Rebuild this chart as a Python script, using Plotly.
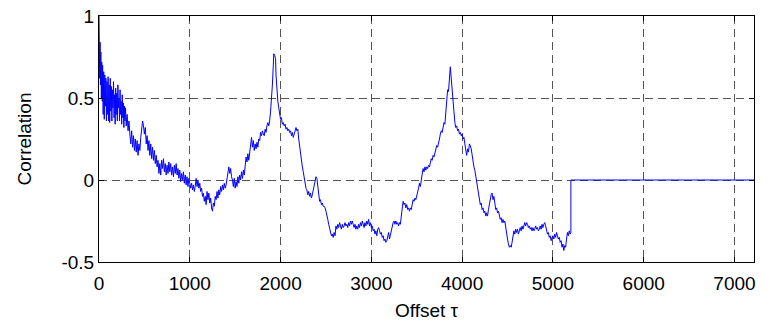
import plotly.graph_objects as go

# ---- data ----
offset_a = [0, 4, 8, 12, 16, 20, 26, 30, 36, 40, 46, 52, 58, 64, 70, 76, 82, 88, 94, 100,
            106, 112, 118, 124, 130, 136, 142, 148, 154, 160, 166, 172, 178, 184, 190, 196,
            202, 208, 214, 220, 226, 232, 238, 244, 250, 256, 262, 268, 274, 280, 286, 292,
            300, 310, 320, 330]
corr_a = [1.0, 0.86, 0.62, 0.84, 0.58, 0.78, 0.50, 0.72, 0.48, 0.70, 0.40, 0.66, 0.37, 0.64,
          0.45, 0.62, 0.36, 0.60, 0.40, 0.63, 0.36, 0.58, 0.35, 0.62, 0.42, 0.57, 0.36, 0.55,
          0.44, 0.60, 0.38, 0.52, 0.34, 0.56, 0.40, 0.53, 0.36, 0.58, 0.44, 0.50, 0.36, 0.55,
          0.40, 0.48, 0.34, 0.52, 0.38, 0.47, 0.32, 0.45, 0.36, 0.44, 0.33, 0.40, 0.30, 0.36]

offset_b = list(range(340, 1070, 10))
corr_b = [0.28, 0.22, 0.30, 0.20, 0.27, 0.18, 0.25, 0.17, 0.24, 0.15, 0.22, 0.18, 0.26, 0.30,
          0.36, 0.33, 0.28, 0.32, 0.22, 0.27, 0.18, 0.24, 0.15, 0.22, 0.13, 0.20, 0.12, 0.18,
          0.10, 0.15, 0.08, 0.12, 0.04, 0.10, 0.03, 0.12, 0.07, 0.13, 0.05, 0.10, 0.03, 0.09,
          0.04, 0.11, 0.05, 0.10, 0.03, 0.08, 0.02, 0.09, 0.04, 0.10, 0.03, 0.07, 0.01, 0.06,
          -0.01, 0.04, 0.0, 0.05, -0.02, 0.03, -0.03, 0.02, -0.04, 0.01, -0.03, -0.05, -0.02,
          -0.06, -0.03, -0.07, -0.04]

offset_c = list(range(1070, 1920, 10))
corr_c = [0.01, -0.04, 0.0, -0.05, -0.02, -0.07, -0.05, -0.10, -0.08, -0.13, -0.10, -0.15,
          -0.07, -0.12, -0.08, -0.14, -0.11, -0.17, -0.19, -0.14, -0.16, -0.10, -0.12, -0.07,
          -0.11, -0.06, -0.09, -0.04, -0.07, -0.03, -0.06, -0.02, -0.05, -0.03, 0.02, 0.05,
          0.08, 0.04, 0.07, 0.02, 0.0, -0.04, 0.01, -0.05, -0.01, -0.04, 0.02, -0.02, 0.03,
          0.0, 0.05, 0.01, 0.06, 0.03, 0.10, 0.14, 0.11, 0.16, 0.12, 0.17, 0.22, 0.26, 0.20,
          0.24, 0.18, 0.22, 0.19, 0.23, 0.20, 0.25, 0.24, 0.29, 0.27, 0.30, 0.28, 0.27, 0.31,
          0.29, 0.33, 0.35, 0.33, 0.36, 0.42, 0.49, 0.58]

offset_d = [1920, 1925, 1935, 1945, 1950, 1960, 1970, 1980, 1990, 2000, 2010, 2020, 2030,
            2040, 2050, 2060, 2070, 2080, 2090, 2100]
corr_d = [0.70, 0.77, 0.76, 0.74, 0.64, 0.52, 0.48, 0.44, 0.40, 0.37, 0.38, 0.34, 0.35,
          0.33, 0.34, 0.31, 0.32, 0.30, 0.31, 0.29]

offset_e = list(range(2110, 3200, 10))
corr_e = [0.30, 0.27, 0.29, 0.26, 0.28, 0.31, 0.32, 0.30, 0.31, 0.25, 0.20, 0.16, 0.12,
          0.08, 0.05, 0.01, -0.02, -0.05, -0.06, -0.09, -0.07, -0.10, -0.08, -0.11, -0.09,
          -0.06, -0.04, 0.0, 0.02, 0.01, -0.03, -0.08, -0.13, -0.12, -0.15, -0.14, -0.16,
          -0.16, -0.17, -0.19, -0.21, -0.24, -0.27, -0.29, -0.31, -0.34, -0.33, -0.35, -0.32,
          -0.34, -0.28, -0.30, -0.27, -0.29, -0.26, -0.28, -0.30, -0.27, -0.29, -0.28, -0.26,
          -0.28, -0.27, -0.29, -0.26, -0.28, -0.25, -0.27, -0.25, -0.27, -0.29, -0.27, -0.30,
          -0.28, -0.30, -0.27, -0.29, -0.26, -0.28, -0.25, -0.27, -0.29, -0.26, -0.28, -0.25,
          -0.27, -0.24, -0.28, -0.26, -0.29, -0.28, -0.31, -0.30, -0.33, -0.31, -0.34, -0.30,
          -0.29, -0.31, -0.33, -0.32, -0.35, -0.34, -0.37, -0.36, -0.38, -0.37, -0.35, -0.32]

offset_f = list(range(3200, 4190, 10))
corr_f = [-0.36, -0.33, -0.30, -0.28, -0.26, -0.25, -0.27, -0.25, -0.27, -0.26, -0.28,
          -0.26, -0.27, -0.22, -0.17, -0.13, -0.15, -0.14, -0.17, -0.15, -0.18, -0.17, -0.19,
          -0.17, -0.18, -0.15, -0.12, -0.13, -0.11, -0.12, -0.10, -0.08, -0.05, -0.02, -0.04,
          0.0, 0.03, 0.07, 0.05, 0.08, 0.06, 0.08, 0.07, 0.09, 0.08, 0.10, 0.13, 0.12, 0.15,
          0.14, 0.17, 0.19, 0.21, 0.20, 0.22, 0.25, 0.28, 0.30, 0.29, 0.32, 0.35, 0.34, 0.40,
          0.47, 0.55, 0.54, 0.62, 0.69, 0.62, 0.54, 0.45, 0.38, 0.35, 0.32, 0.33, 0.30, 0.31,
          0.28, 0.29, 0.27, 0.28, 0.25, 0.26, 0.22, 0.18, 0.15, 0.19, 0.17, 0.22, 0.21, 0.19,
          0.14, 0.12, 0.08, 0.06, 0.02, -0.02, -0.06, -0.10]

offset_g = list(range(4190, 5200, 10))
corr_g = [-0.12, -0.15, -0.14, -0.18, -0.17, -0.20, -0.19, -0.22, -0.20, -0.22, -0.18,
          -0.15, -0.11, -0.09, -0.08, -0.12, -0.10, -0.16, -0.18, -0.17, -0.20, -0.19, -0.22,
          -0.24, -0.23, -0.26, -0.24, -0.26, -0.25, -0.30, -0.34, -0.36, -0.39, -0.41, -0.40,
          -0.41, -0.38, -0.33, -0.31, -0.33, -0.30, -0.32, -0.30, -0.33, -0.31, -0.29, -0.31,
          -0.28, -0.30, -0.27, -0.26, -0.28, -0.26, -0.27, -0.29, -0.28, -0.30, -0.29, -0.31,
          -0.29, -0.31, -0.30, -0.28, -0.30, -0.29, -0.31, -0.30, -0.28, -0.30, -0.27, -0.29,
          -0.27, -0.26, -0.28, -0.30, -0.33, -0.32, -0.35, -0.34, -0.37, -0.35, -0.34, -0.36,
          -0.33, -0.35, -0.32, -0.34, -0.36, -0.35, -0.38, -0.37, -0.41, -0.39, -0.43, -0.40,
          -0.41, -0.36, -0.32, -0.34, -0.31, -0.33]

offset_h = [5198, 5198, 7215]
corr_h = [-0.32, 0.0, 0.0]

offset = offset_a + offset_b + offset_c + offset_d + offset_e + offset_f + offset_g + offset_h
correlation = corr_a + corr_b + corr_c + corr_d + corr_e + corr_f + corr_g + corr_h

x_ticks = [0, 1000, 2000, 3000, 4000, 5000, 6000, 7000]
y_ticks = [-0.5, 0, 0.5, 1]
y_tick_text = ["-0.5", "0", "0.5", "1"]

FONT = "Liberation Sans, Arial, sans-serif"

fig = go.Figure()
fig.add_trace(go.Scatter(x=offset, y=correlation, mode="lines",
                         line=dict(color="#0000FF", width=1), showlegend=False,
                         cliponaxis=False))

axis_common = dict(
    showline=True, linecolor="black", linewidth=1, mirror="ticks",
    ticks="inside", ticklen=5, tickcolor="black",
    showgrid=True, gridcolor="#555555", gridwidth=1, griddash="8px,5px",
    zeroline=False, tickfont=dict(family=FONT, size=19, color="black"),
)

fig.update_xaxes(range=[0, 7215], tickvals=x_ticks, ticktext=[str(v) for v in x_ticks],
                 ticklabelstandoff=4,
                 title=dict(text="Offset τ", font=dict(family=FONT, size=19, color="black"),
                            standoff=10),
                 **axis_common)
fig.update_yaxes(range=[-0.5, 1], tickvals=y_ticks, ticktext=y_tick_text,
                 title=dict(text="Correlation", font=dict(family=FONT, size=19, color="black"),
                            standoff=24),
                 **axis_common)

fig.update_layout(
    width=770, height=321,
    margin=dict(l=99, r=16, t=16, b=59, autoexpand=False),
    paper_bgcolor="white", plot_bgcolor="white",
    font=dict(family=FONT, size=19, color="black"),
)

# remove the default 8 px page margin so the figure sits at the window origin
fig.write_html("out.html",
               config={"displayModeBar": False},
               post_script="document.body.style.margin='0';"
                           "document.documentElement.style.overflow='hidden';")
